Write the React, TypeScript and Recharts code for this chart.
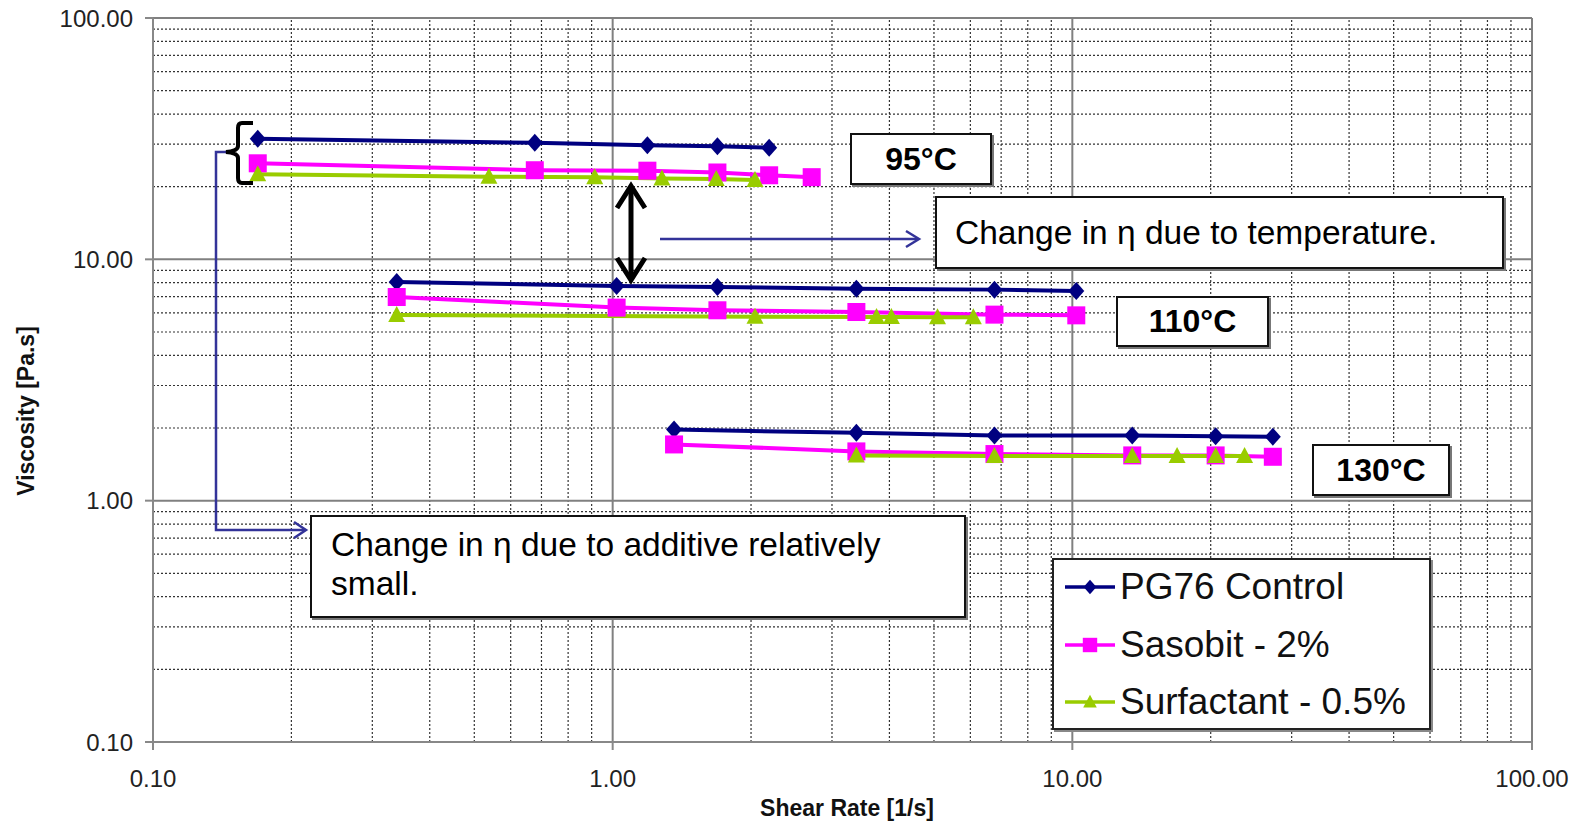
import React from 'react';
import { ComposedChart, Line, XAxis, YAxis, ReferenceLine, Label } from 'recharts';

// ---- Data (shear rate [1/s], viscosity [Pa.s]) ----
const seriesNames = ['PG76 Control', 'Sasobit - 2%', 'Surfactant - 0.5%'];
const seriesColors = ['#000080', '#FF00FF', '#99CC00'];
const seriesShapes = ['diamond', 'square', 'triangle'];

// 95°C
const rate95Control = [0.169, 0.677, 1.19, 1.69, 2.19];
const visc95Control = [31.6, 30.4, 29.7, 29.4, 29.0];
const rate95Sasobit = [0.169, 0.677, 1.19, 1.69, 2.19, 2.71];
const visc95Sasobit = [25.0, 23.4, 23.3, 22.9, 22.3, 21.9];
const rate95Surfactant = [0.169, 0.538, 0.914, 1.28, 1.68, 2.04];
const visc95Surfactant = [22.5, 22.0, 21.9, 21.6, 21.5, 21.3];

// 110°C
const rate110Control = [0.339, 1.02, 1.69, 3.39, 6.77, 10.2];
const visc110Control = [8.05, 7.75, 7.68, 7.56, 7.49, 7.4];
const rate110Sasobit = [0.339, 1.02, 1.69, 3.39, 6.77, 10.2];
const visc110Sasobit = [6.98, 6.31, 6.15, 6.05, 5.9, 5.86];
const rate110Surfactant = [0.339, 2.04, 3.75, 4.04, 5.09, 6.09];
const visc110Surfactant = [5.88, 5.78, 5.77, 5.77, 5.76, 5.76];

// 130°C
const rate130Control = [1.36, 3.39, 6.77, 13.5, 20.5, 27.3];
const visc130Control = [1.97, 1.91, 1.86, 1.86, 1.85, 1.84];
const rate130Sasobit = [1.36, 3.39, 6.77, 13.5, 20.5, 27.3];
const visc130Sasobit = [1.71, 1.6, 1.56, 1.54, 1.54, 1.52];
const rate130Surfactant = [3.39, 6.77, 13.5, 16.9, 20.5, 23.7];
const visc130Surfactant = [1.54, 1.53, 1.53, 1.53, 1.53, 1.53];

const xTicks = [0.1, 1, 10, 100];
const yTicks = [0.1, 1, 10, 100];

const zip = (xs: number[], ys: number[]) => xs.map((x, i) => ({ x, y: ys[i] }));

const groups = [
  { temp: '95', series: [zip(rate95Control, visc95Control), zip(rate95Sasobit, visc95Sasobit), zip(rate95Surfactant, visc95Surfactant)] },
  { temp: '110', series: [zip(rate110Control, visc110Control), zip(rate110Sasobit, visc110Sasobit), zip(rate110Surfactant, visc110Surfactant)] },
  { temp: '130', series: [zip(rate130Control, visc130Control), zip(rate130Sasobit, visc130Sasobit), zip(rate130Surfactant, visc130Surfactant)] },
];

const minorValues: number[] = [];
[0.1, 1, 10].forEach((d) => {
  for (let m = 2; m <= 9; m++) minorValues.push(+(d * m).toFixed(4));
});

const FONT = '"Liberation Sans", Arial, sans-serif';

function marker(shape: string, color: string, cx: number, cy: number, key: string, s = 1) {
  if (shape === 'diamond') {
    return <path key={key} d={`M${cx},${cy - 9 * s}L${cx + 8 * s},${cy}L${cx},${cy + 9 * s}L${cx - 8 * s},${cy}Z`} fill={color} />;
  }
  if (shape === 'square') {
    return <rect key={key} x={cx - 9 * s} y={cy - 9 * s} width={18 * s} height={18 * s} fill={color} />;
  }
  return <path key={key} d={`M${cx},${cy - 9 * s}L${cx + 8.5 * s},${cy + 7 * s}L${cx - 8.5 * s},${cy + 7 * s}Z`} fill={color} />;
}

const LegendBox = () => (
  <div
    style={{
      position: 'absolute',
      left: 1052,
      top: 558,
      width: 379,
      height: 172,
      boxSizing: 'border-box',
      border: '2px solid #222',
      background: '#fff',
      boxShadow: '2px 2px 0 #888',
      fontFamily: FONT,
    }}
  >
    {seriesNames.map((name, i) => (
      <div key={name} style={{ position: 'absolute', left: 0, top: 4 + i * 57.5, height: 46, display: 'flex', alignItems: 'center' }}>
        <svg width={66} height={30} style={{ display: 'block' }}>
          <line x1={11} y1={15} x2={61} y2={15} stroke={seriesColors[i]} strokeWidth={3.5} />
          {marker(seriesShapes[i], seriesColors[i], 36, 15, 'm' + i, 0.8)}
        </svg>
        <span style={{ fontSize: 37, color: '#111', lineHeight: '46px' }}>{name}</span>
      </div>
    ))}
  </div>
);

const boxStyle: React.CSSProperties = {
  position: 'absolute',
  border: '2px solid #111',
  background: '#fff',
  boxShadow: '2px 2px 0 #777',
  fontFamily: FONT,
  color: '#000',
  boxSizing: 'border-box',
};

export default function App() {
  const blue = '#333399';
  return (
    <div style={{ position: 'absolute', left: 0, top: 0, width: 1581, height: 822, background: '#fff', fontFamily: FONT }}>
      <ComposedChart width={1581} height={822} margin={{ top: 18, right: 49, left: 0, bottom: 0 }}>
        <XAxis
          type="number"
          dataKey="x"
          scale="log"
          domain={[0.1, 100]}
          ticks={xTicks}
          allowDataOverflow
          height={80}
          tickSize={8}
          tickMargin={20}
          tickFormatter={(v: number) => v.toFixed(2)}
          tick={{ fontSize: 24, fill: '#222', fontFamily: FONT }}
          axisLine={{ stroke: '#888', strokeWidth: 2 }}
          tickLine={{ stroke: '#888', strokeWidth: 2 }}
        >
          <Label
            content={() => (
              <text x={847} y={808} textAnchor="middle" dominantBaseline="central" fontSize={23} fontWeight="bold" fontFamily={FONT} fill="#111">
                Shear Rate [1/s]
              </text>
            )}
          />
        </XAxis>
        <YAxis
          type="number"
          scale="log"
          domain={[0.1, 100]}
          ticks={yTicks}
          allowDataOverflow
          width={153}
          tickSize={8}
          tickMargin={12}
          tickFormatter={(v: number) => v.toFixed(2)}
          tick={{ fontSize: 24, fill: '#222', fontFamily: FONT }}
          axisLine={{ stroke: '#888', strokeWidth: 2 }}
          tickLine={{ stroke: '#888', strokeWidth: 2 }}
        >
          <Label
            content={() => (
              <text x={26} y={411} transform="rotate(-90, 26, 411)" textAnchor="middle" dominantBaseline="central" fontSize={23} fontWeight="bold" fontFamily={FONT} fill="#111">
                Viscosity [Pa.s]
              </text>
            )}
          />
        </YAxis>

        {minorValues.map((v) => (
          <ReferenceLine key={'mx' + v} x={v} stroke="#333" strokeWidth={1.2} strokeDasharray="2 2" />
        ))}
        {minorValues.map((v) => (
          <ReferenceLine key={'my' + v} y={v} stroke="#333" strokeWidth={1.2} strokeDasharray="2 2" />
        ))}
        {xTicks.map((v) => (
          <ReferenceLine key={'Mx' + v} x={v} stroke="#808080" strokeWidth={2} />
        ))}
        {yTicks.map((v) => (
          <ReferenceLine key={'My' + v} y={v} stroke="#808080" strokeWidth={2} />
        ))}

        {groups.map((g) =>
          g.series.map((data, i) => (
            <Line
              key={g.temp + '-' + i}
              data={data}
              dataKey="y"
              name={seriesNames[i]}
              stroke={seriesColors[i]}
              strokeWidth={4}
              isAnimationActive={false}
              legendType="none"
              dot={(p: any) => marker(seriesShapes[i], seriesColors[i], p.cx, p.cy, `${g.temp}-${i}-${p.index}`)}
              activeDot={false}
            />
          ))
        )}
      </ComposedChart>

      <LegendBox />

      {/* annotation arrows */}
      <svg width={1581} height={822} style={{ position: 'absolute', left: 0, top: 0, pointerEvents: 'none' }}>
        <path d="M228,152 H216 V530 H305" fill="none" stroke={blue} strokeWidth={2.5} />
        <path d="M294,522 L306,530 L294,538" fill="none" stroke={blue} strokeWidth={2.5} />
        <path d="M660,239 H918" fill="none" stroke={blue} strokeWidth={2.5} />
        <path d="M906,231 L919,239 L906,247" fill="none" stroke={blue} strokeWidth={2.5} />
        <path d="M253,123 H242 Q238,123 238,128 V146 Q238,151 226,152 Q238,153 238,158 V178 Q238,183 242,183 H253" fill="none" stroke="#000" strokeWidth={4} />
        <path d="M631,187 V279" stroke="#000" strokeWidth={5} />
        <path d="M617,208 L631,186 L645,208" fill="none" stroke="#000" strokeWidth={5} />
        <path d="M617,258 L631,280 L645,258" fill="none" stroke="#000" strokeWidth={5} />
      </svg>

      <div style={{ ...boxStyle, left: 850, top: 133, width: 142, height: 52, display: 'flex', alignItems: 'center', justifyContent: 'center', fontSize: 32, fontWeight: 'bold' }}>
        95°C
      </div>
      <div style={{ ...boxStyle, left: 1116, top: 296, width: 153, height: 51, display: 'flex', alignItems: 'center', justifyContent: 'center', fontSize: 32, fontWeight: 'bold' }}>
        110°C
      </div>
      <div style={{ ...boxStyle, left: 1312, top: 444, width: 138, height: 52, display: 'flex', alignItems: 'center', justifyContent: 'center', fontSize: 32, fontWeight: 'bold' }}>
        130°C
      </div>
      <div style={{ ...boxStyle, left: 935, top: 196, width: 569, height: 73, display: 'flex', alignItems: 'center', paddingLeft: 18, fontSize: 33.5 }}>
        Change in η due to temperature.
      </div>
      <div style={{ ...boxStyle, left: 310, top: 515, width: 656, height: 103, paddingLeft: 19, paddingTop: 8, fontSize: 33.5, lineHeight: '39px' }}>
        Change in η due to additive relatively
        <br />
        small.
      </div>
    </div>
  );
}
